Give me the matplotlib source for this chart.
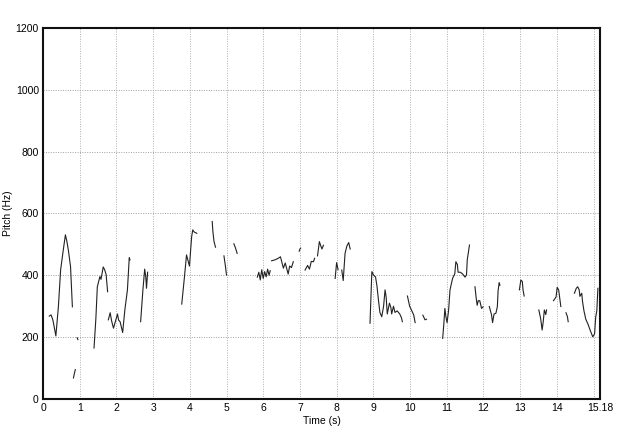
import matplotlib
matplotlib.use("Agg")
import matplotlib.pyplot as plt

plt.rcParams['font.family'] = ['Liberation Sans', 'DejaVu Sans']

# Pitch contour segments: (time in s, pitch in Hz)
seg_times = [
    [0.17, 0.22, 0.27, 0.35, 0.42, 0.48, 0.55, 0.61, 0.65, 0.69, 0.75, 0.80],
    [0.83, 0.85, 0.88],
    [0.93, 0.95],
    [1.39, 1.44, 1.48, 1.55, 1.58, 1.64, 1.68, 1.72, 1.76],
    [1.78, 1.83, 1.87, 1.92, 1.97, 2.03, 2.06, 2.10, 2.17, 2.23, 2.30, 2.35, 2.37],
    [2.66, 2.72, 2.77, 2.80, 2.82, 2.85],
    [3.78, 3.85, 3.91, 3.99, 4.05, 4.08, 4.12, 4.19],
    [4.61, 4.63, 4.66, 4.70],
    [4.93, 4.97, 5.00],
    [5.20, 5.24, 5.29],
    [5.84, 5.88, 5.92, 5.96, 6.00, 6.04, 6.08, 6.12, 6.16, 6.19],
    [6.23, 6.32, 6.41, 6.47, 6.55, 6.60, 6.68, 6.72, 6.77, 6.82],
    [6.98, 7.00, 7.02],
    [7.14, 7.21, 7.26, 7.31, 7.37, 7.40],
    [7.48, 7.53, 7.57, 7.60, 7.64],
    [7.96, 8.00, 8.04],
    [8.14, 8.18, 8.23, 8.28, 8.33, 8.37],
    [8.91, 8.96, 9.01, 9.06, 9.10, 9.14, 9.18, 9.23, 9.28, 9.32, 9.35, 9.38, 9.44,
     9.48, 9.50, 9.55, 9.59, 9.65, 9.72, 9.77, 9.79],
    [9.93, 9.99, 10.05, 10.10, 10.14],
    [10.35, 10.41, 10.45],
    [10.89, 10.92, 10.95, 10.98, 11.01, 11.05, 11.09, 11.16, 11.22, 11.25, 11.29,
     11.31, 11.37, 11.43, 11.50, 11.54, 11.56, 11.62],
    [11.77, 11.80, 11.83, 11.86, 11.90, 11.95, 11.99],
    [12.16, 12.22, 12.25, 12.29, 12.34, 12.38, 12.40, 12.43, 12.45],
    [12.98, 13.02, 13.06, 13.08, 13.11],
    [13.51, 13.56, 13.60, 13.63, 13.66, 13.70, 13.72],
    [13.91, 13.98, 14.01, 14.05, 14.08, 14.11],
    [14.25, 14.29, 14.31],
    [14.48, 14.53, 14.57, 14.61, 14.63, 14.68, 14.70, 14.74, 14.79, 14.85, 14.91,
     14.98, 15.03, 15.06, 15.09, 15.12],
]
seg_hz = [
    [268, 272, 255, 204, 300, 418, 480, 531, 510, 482, 428, 298],
    [68, 80, 95],
    [198, 192],
    [165, 260, 363, 396, 387, 427, 418, 402, 347],
    [256, 279, 252, 229, 250, 275, 255, 250, 215, 288, 353, 457, 450],
    [250, 350, 420, 395, 358, 410],
    [307, 390, 466, 430, 525, 547, 540, 536],
    [574, 540, 509, 491],
    [463, 430, 401],
    [502, 490, 471],
    [394, 410, 385, 418, 390, 412, 395, 420, 400, 415],
    [447, 450, 455, 460, 423, 440, 404, 430, 425, 444],
    [478, 485, 488],
    [417, 432, 420, 445, 444, 455],
    [463, 509, 495, 485, 497],
    [390, 441, 418],
    [417, 383, 471, 495, 506, 485],
    [245, 412, 400, 395, 365, 320, 280, 266, 300, 353, 330, 275, 310,
     295, 275, 300, 280, 285, 275, 262, 250],
    [333, 300, 285, 272, 247],
    [271, 256, 258],
    [196, 240, 293, 265, 247, 285, 353, 390, 405, 444, 435, 410, 410, 405, 394,
     402, 450, 498],
    [363, 330, 303, 318, 318, 293, 298],
    [299, 273, 247, 275, 277, 299, 350, 376, 368],
    [353, 385, 380, 353, 333],
    [288, 260, 223, 250, 288, 273, 288],
    [318, 330, 361, 353, 326, 299],
    [279, 266, 250],
    [342, 358, 363, 353, 332, 342, 316, 285, 258, 242, 222, 201, 211, 265, 285, 358],
]

x_tick_labels = [str(v) for v in range(0, 15)] + ["15.18"]
x_tick_pos = list(range(0, 15)) + [15.18]
y_ticks = [0, 200, 400, 600, 800, 1000, 1200]

fig = plt.figure(figsize=(6.43, 4.28), dpi=100)
ax = fig.add_axes([0.0669, 0.0678, 0.8664, 0.8668])

for t, h in zip(seg_times, seg_hz):
    ax.plot(t, h, color="#222222", linewidth=0.8)

ax.set_xlim(0, 15.18)
ax.set_ylim(0, 1200)
ax.set_xticks(x_tick_pos)
ax.set_xticklabels(x_tick_labels, fontsize=7.5)
ax.set_yticks(y_ticks)
ax.set_yticklabels([str(v) for v in y_ticks], fontsize=7.5)
ax.tick_params(length=0, pad=3)

for v in range(1, 16):
    ax.axvline(v, color="#b0b0b0", linestyle=(0, (1, 1.5)), linewidth=0.7, zorder=0)
for v in [200, 400, 600, 800, 1000]:
    ax.axhline(v, color="#a0a0a0", linestyle=(0, (1, 1.5)), linewidth=0.7, zorder=0)

for s in ax.spines.values():
    s.set_linewidth(1.5)
    s.set_color("#111111")

ax.set_xlabel("Time (s)", fontsize=7.5, labelpad=2)
ax.set_ylabel("Pitch (Hz)", fontsize=7.5)
ax.yaxis.set_label_coords(-0.053, 0.5)

fig.savefig("out.png", dpi=100)
